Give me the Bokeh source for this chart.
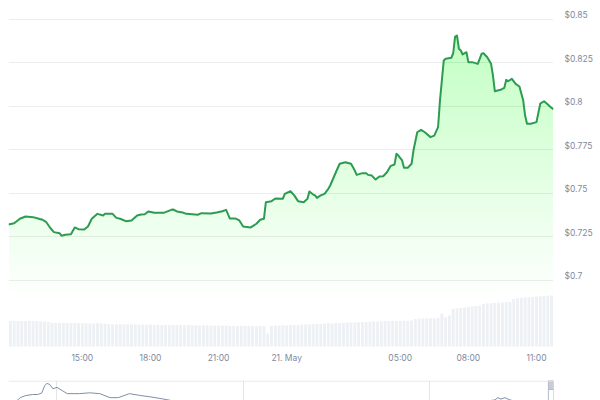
import numpy as np
import pandas as pd
from bokeh.plotting import figure
from bokeh.models import Range1d, LinearAxis, FixedTicker, Grid, Span
from bokeh.layouts import column
from bokeh.embed import file_html
from bokeh.resources import INLINE

# ---------------- data ----------------
start_time = "2025-05-20 11:45"
end_time = "2025-05-21 11:45"

# price: minutes after start_time, USD
price_minutes = [0, 15, 30, 45, 65, 80, 90, 100, 110, 120,
                 135, 140, 150, 165, 175, 185, 200, 210, 220, 235,
                 250, 255, 275, 285, 295, 310, 325, 340, 350, 360,
                 370, 385, 410, 430, 435, 445, 460, 470, 485, 500,
                 510, 535, 550, 565, 575, 585, 600, 610, 620, 640,
                 655, 665, 675, 680, 695, 705, 725, 730, 745, 755,
                 765, 780, 790, 795, 805, 810, 815, 825, 835, 845,
                 850, 865, 875, 890, 905, 915, 920, 935, 945, 950,
                 960, 970, 980, 990, 1000, 1010, 1020, 1025, 1030, 1040,
                 1045, 1055, 1065, 1070, 1080, 1090, 1100, 1115, 1125, 1135,
                 1140, 1145, 1150, 1155, 1170, 1175, 1180, 1185, 1190, 1195,
                 1200, 1210, 1215, 1225, 1240, 1250, 1255, 1265, 1275, 1280,
                 1285, 1300, 1310, 1315, 1320, 1330, 1340, 1350, 1360, 1365,
                 1370, 1380, 1395, 1405, 1415, 1425, 1435, 1440]
price_values = [0.7322, 0.7329, 0.7355, 0.7368, 0.7364, 0.7355, 0.7349, 0.7335, 0.7303, 0.7278,
                0.7272, 0.7257, 0.7263, 0.7266, 0.7305, 0.7295, 0.7293, 0.7310, 0.7355, 0.7383,
                0.7374, 0.7383, 0.7383, 0.7360, 0.7355, 0.7341, 0.7345, 0.7374, 0.7379, 0.7381,
                0.7397, 0.7389, 0.7389, 0.7406, 0.7408, 0.7397, 0.7391, 0.7383, 0.7381, 0.7378,
                0.7387, 0.7385, 0.7391, 0.7398, 0.7406, 0.7356, 0.7356, 0.7345, 0.7310, 0.7305,
                0.7326, 0.7349, 0.7355, 0.7450, 0.7456, 0.7471, 0.7470, 0.7498, 0.7513, 0.7489,
                0.7456, 0.7450, 0.7470, 0.7511, 0.7494, 0.7489, 0.7475, 0.7489, 0.7498, 0.7527,
                0.7546, 0.7622, 0.7671, 0.7680, 0.7671, 0.7632, 0.7607, 0.7617, 0.7617, 0.7607,
                0.7603, 0.7580, 0.7598, 0.7599, 0.7622, 0.7659, 0.7667, 0.7728, 0.7718, 0.7690,
                0.7648, 0.7648, 0.7671, 0.7747, 0.7852, 0.7866, 0.7852, 0.7824, 0.7833, 0.7881,
                0.8034, 0.8149, 0.8264, 0.8274, 0.8280, 0.8306, 0.8402, 0.8408, 0.8332, 0.8322,
                0.8299, 0.8312, 0.8255, 0.8255, 0.8245, 0.8303, 0.8306, 0.8283, 0.8245, 0.8178,
                0.8088, 0.8096, 0.8107, 0.8153, 0.8145, 0.8159, 0.8130, 0.8115, 0.8034, 0.7948,
                0.7901, 0.7901, 0.7910, 0.8016, 0.8030, 0.8011, 0.7992, 0.7984]

# volume (USD millions), one bar per 10 minutes from start_time
volume_step_minutes = 10
volume_values = [25.5, 25.8, 25.4, 25.6, 25.3, 25.5, 25.2, 25.4, 25.0, 24.8, 24.6,
                 23.6, 23.4, 23.8, 23.5, 23.3, 23.6, 23.4, 23.2, 23.5, 23.3, 23.1, 23.0, 23.2, 22.9, 22.8, 22.6,
                 22.3, 22.1, 22.4, 22.0, 22.2, 21.9, 22.1, 21.8, 22.0, 21.7, 21.9, 21.6, 21.8, 21.5, 21.7, 21.4,
                 21.6, 21.3, 21.5, 21.2, 21.4, 21.1, 21.3, 21.0, 21.2, 20.9, 21.1, 20.8, 21.0, 20.7, 20.9, 20.6,
                 20.8, 20.5, 20.7, 20.4, 20.6,
                 20.5, 20.3, 20.6, 20.2,
                 13.0,
                 20.4, 20.8, 21.0, 21.2, 21.1, 21.4, 21.6, 21.5,
                 22.0, 22.3, 22.1, 22.6, 22.8, 22.5, 23.0, 23.2, 23.0, 23.4, 23.6, 23.5, 23.9, 24.1, 24.0, 24.3,
                 24.5, 24.4, 24.7, 24.9, 25.0,
                 25.2, 25.4, 25.3, 25.6, 25.5, 25.7, 25.6, 25.8, 26.0,
                 27.5, 27.8, 28.0, 27.9, 28.2, 28.0, 28.4,
                 33.0, 29.0, 31.0,
                 37.5, 38.0, 38.6, 39.0, 39.5, 40.0, 40.4, 40.8,
                 42.5, 43.0, 43.2, 43.5, 43.8, 44.0, 44.3, 44.6,
                 47.5, 48.2, 48.6, 49.0, 49.3, 49.6, 50.0, 50.3, 50.5, 50.8, 51.0]

x_tick_times = ["2025-05-20 15:00", "2025-05-20 18:00", "2025-05-20 21:00", "2025-05-21 00:00",
                "2025-05-21 05:00", "2025-05-21 08:00", "2025-05-21 11:00"]
x_tick_labels = ["15:00", "18:00", "21:00", "21. May", "05:00", "08:00", "11:00"]

y_tick_values = [0.7, 0.725, 0.75, 0.775, 0.8, 0.825, 0.85]
y_tick_labels = ["$0.7", "$0.725", "$0.75", "$0.775", "$0.8", "$0.825", "$0.85"]

# navigator (long history)
nav_dates = ["2023-12-13", "2023-12-16", "2023-12-21", "2023-12-28", "2024-01-02", "2024-01-06",
             "2024-01-09", "2024-01-11", "2024-01-14", "2024-01-17", "2024-01-21", "2024-01-26",
             "2024-01-31", "2024-02-12", "2024-02-22", "2024-03-03", "2024-03-13", "2024-03-21",
             "2024-04-01", "2024-04-11", "2024-04-21", "2024-05-03", "2024-05-12", "2024-05-25",
             "2024-06-28", "2024-08-06", "2024-09-14", "2024-11-02", "2024-12-21", "2025-01-30",
             "2025-02-28", "2025-03-25", "2025-03-28", "2025-03-31", "2025-04-04", "2025-04-08",
             "2025-04-28", "2025-05-21"]
nav_values = [0.9, 1.0, 1.07, 1.11, 1.11, 1.16, 1.42, 1.5, 1.46, 1.31,
              1.36, 1.25, 1.14, 1.14, 1.17, 1.14, 1.0, 1.0, 1.14, 1.08,
              1.03, 0.96, 0.9, 0.82, 0.7, 0.6, 0.55, 0.6, 0.85, 0.9,
              0.8, 0.92, 1.0, 0.95, 1.0, 0.93, 0.75, 0.8]
nav_grid_dates = ["2024-01-21", "2024-07-22", "2025-01-20"]
nav_span_days = 534

# ---------------- helpers ----------------
EPOCH = pd.Timestamp("1970-01-01")
ONE_MS = pd.Timedelta(milliseconds=1)


def ms(t):
    r = (pd.to_datetime(t) - EPOCH) / ONE_MS
    if np.ndim(r) == 0:
        return float(r)
    return np.asarray(r, dtype=float)


FONT = "Inter"
LABEL_COLOR = "#808a9d"
LINE_COLOR = "#2b9c50"
FILL_COLOR = "#1aa85a"
GRID_COLOR = "#ededed"

t0 = ms(start_time)
t1 = ms(end_time)
px = t0 + np.array(price_minutes, dtype=float) * 60000.0
py = np.array(price_values, dtype=float)

Y0, Y1 = 0.66149, 0.85632
PX_PER_UNIT = 339.0 / (Y1 - Y0)

# ---------------- main chart ----------------
p = figure(width=600, height=368, output_backend="svg", toolbar_location=None,
           x_range=Range1d(t0, t1), y_range=Range1d(Y0, Y1),
           x_axis_location=None, y_axis_location=None,
           min_border_left=8, min_border_right=47, min_border_top=8, min_border_bottom=21)
p.outline_line_color = None
p.grid.visible = False
p.background_fill_color = "white"
p.border_fill_color = "white"

ygrid = Grid(dimension=1, ticker=FixedTicker(ticks=y_tick_values),
             grid_line_color=GRID_COLOR, grid_line_width=1)
p.add_layout(ygrid, "center")

# volume bars on their own scale (1 unit ~ 1 px)
p.extra_y_ranges = {
    "vol": Range1d(-1, 338),
    "lab": Range1d(Y0 - 4.0 / PX_PER_UNIT, Y1 - 4.0 / PX_PER_UNIT),
}
vol_x = t0 + (np.arange(len(volume_values)) + 0.5) * volume_step_minutes * 60000.0
p.vbar(x=vol_x, width=volume_step_minutes * 60000.0 * 0.75, top=volume_values, bottom=0,
       y_range_name="vol", fill_color="#edf0f4", line_color=None)

# gradient-like area fill: stacked translucent layers
for T in np.arange(0.69, 0.85, 0.0025):
    p.varea(x=px, y1=np.full(len(px), T), y2=np.maximum(py, T),
            fill_color=FILL_COLOR, fill_alpha=0.0052)

p.line(px, py, line_color=LINE_COLOR, line_width=2, line_join="round")

yax = LinearAxis(y_range_name="lab", ticker=FixedTicker(ticks=y_tick_values),
                 major_label_overrides={v: l for v, l in zip(y_tick_values, y_tick_labels)},
                 axis_line_color=None, major_tick_line_color=None, minor_tick_line_color=None,
                 major_tick_out=0, major_tick_in=0, major_label_standoff=11,
                 major_label_text_font=FONT, major_label_text_font_size="8.5px",
                 major_label_text_color=LABEL_COLOR)
p.add_layout(yax, "right")

xt = [ms(t) for t in x_tick_times]
xax = LinearAxis(ticker=FixedTicker(ticks=xt),
                 major_label_overrides={v: l for v, l in zip(xt, x_tick_labels)},
                 axis_line_color=None, major_tick_line_color=None, minor_tick_line_color=None,
                 major_tick_out=0, major_tick_in=0, major_label_standoff=5,
                 major_label_text_font=FONT, major_label_text_font_size="8.5px",
                 major_label_text_color=LABEL_COLOR)
p.add_layout(xax, "below")

# ---------------- navigator ----------------
nav_end = t1
nav_start = t1 - nav_span_days * 86400000.0
NY0, NY1 = 0.9007, 1.6
nav = figure(width=600, height=32, output_backend="svg", toolbar_location=None,
             x_range=Range1d(nav_start, nav_end), y_range=Range1d(NY0, NY1),
             x_axis_location=None, y_axis_location=None,
             min_border_left=8, min_border_right=47, min_border_top=12, min_border_bottom=0)
nav.outline_line_color = None
nav.grid.visible = False
nav.add_layout(Grid(dimension=0, ticker=FixedTicker(ticks=list(ms(nav_grid_dates))),
                    grid_line_color="#e6e6e6"), "center")
nav.add_layout(Span(location=NY1 - 0.02, dimension="width", line_color="#e3e3e3", line_width=1))
nav.line(ms(nav_dates), nav_values, line_color="#7f8fa6", line_width=1)

hw = 5 * 86400000.0
nav.quad(left=[nav_end - hw], right=[nav_end], top=[NY1], bottom=[NY1 - 0.315],
         fill_color="#c8cdd5", line_color="#b4bbc6")
nav.quad(left=[nav_end - hw], right=[nav_end], top=[NY1 - 0.315], bottom=[NY0],
         fill_color="white", line_color="#b4bbc6")

layout = column(p, nav, spacing=0)
open("out.html", "w").write(file_html(layout, INLINE))
